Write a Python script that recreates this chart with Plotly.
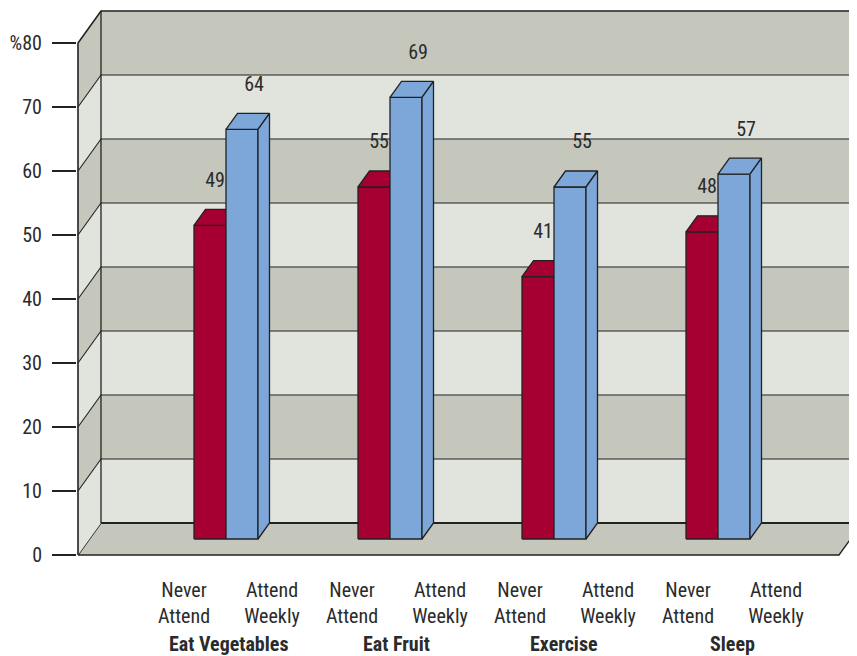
import plotly.graph_objects as go

# data
categories = ["Eat Vegetables", "Eat Fruit", "Exercise", "Sleep"]
series_names = ["Never<br>Attend", "Attend<br>Weekly"]
never_attend = [49, 55, 41, 48]
attend_weekly = [64, 69, 55, 57]
y_ticks = [0, 10, 20, 30, 40, 50, 60, 70, 80]
y_tick_labels = ["0", "10", "20", "30", "40", "50", "60", "70", "%80"]

# look of the fake 3-D box (x in pixels, y in value units)
DX, DY = 23, 5            # depth of the walls
X_LEFT, X_RIGHT = 78, 839  # front edge of the floor
BAR_W = 32
FIRST_BAR = 182.5
GROUP_STEP = 164
LABEL_START, LABEL_STEP, LABEL_GAP = 184, 168, 88

RED, BLUE = "#A60033", "#7DA7D9"
DARK, LIGHT = "#C5C7BC", "#E1E3DD"
EDGE = "#222222"
FONT = "Liberation Sans Narrow, Roboto Condensed, Arial Narrow, sans-serif"
TEXT = "#2b2b2b"


def poly(xs, ys, fill, color=EDGE, width=1.3):
    return go.Scatter(
        x=xs + [xs[0]], y=ys + [ys[0]], mode="lines", fill="toself",
        fillcolor=fill, line=dict(color=color, width=width),
        hoverinfo="skip", showlegend=False,
    )


def line(xs, ys, width=1.3):
    return go.Scatter(x=xs, y=ys, mode="lines", line=dict(color=EDGE, width=width),
                      hoverinfo="skip", showlegend=False)


fig = go.Figure()

# floor
fig.add_trace(poly([X_LEFT, X_RIGHT, X_RIGHT + DX, X_LEFT + DX],
                   [0, 0, DY, DY], DARK))

# walls, banded every 10
for k in range(len(y_ticks) - 1):
    lo, hi = y_ticks[k], y_ticks[k + 1]
    col = LIGHT if k % 2 == 0 else DARK
    fig.add_trace(poly([X_LEFT + DX, X_RIGHT + DX + 30, X_RIGHT + DX + 30, X_LEFT + DX],
                       [lo + DY, lo + DY, hi + DY, hi + DY], col, color=col, width=0))
    fig.add_trace(poly([X_LEFT, X_LEFT + DX, X_LEFT + DX, X_LEFT],
                       [lo, lo + DY, hi + DY, hi], col, color=col, width=0))

# gridlines
for v in y_ticks[1:-1]:
    fig.add_trace(line([X_LEFT, X_LEFT + DX, X_RIGHT + DX + 30], [v, v + DY, v + DY], 1.1))
top = y_ticks[-1]
fig.add_trace(line([X_LEFT, X_LEFT, X_LEFT + DX, X_RIGHT + DX + 30],
                   [0, top, top + DY, top + DY], 1.6))
fig.add_trace(line([X_LEFT + DX, X_LEFT + DX], [DY, top + DY], 1.3))
fig.add_trace(line([X_LEFT + DX, X_RIGHT + DX + 30], [DY, DY], 2))

# bars
label_x, label_y, label_t = [], [], []
for i in range(len(categories)):
    for j, (vals, col) in enumerate([(never_attend, RED), (attend_weekly, BLUE)]):
        v = vals[i]
        fx = FIRST_BAR + GROUP_STEP * i + BAR_W * j + DX / 2
        b, t = DY / 2, v + DY / 2
        fig.add_trace(poly([fx, fx + BAR_W, fx + BAR_W, fx], [b, b, t, t], col))
        fig.add_trace(poly([fx, fx + BAR_W, fx + BAR_W + DX / 2, fx + DX / 2],
                           [t, t, t + DY / 2, t + DY / 2], col))
        fig.add_trace(poly([fx + BAR_W, fx + BAR_W + DX / 2, fx + BAR_W + DX / 2, fx + BAR_W],
                           [b, DY, t + DY / 2, t], col))
        label_x.append(fx + BAR_W / 2 + (5 if j == 0 else 12))
        label_y.append(v + DY + 4.3)
        label_t.append(str(v))

fig.add_trace(go.Scatter(
    x=label_x, y=label_y, text=label_t, mode="text", textposition="middle center",
    textfont=dict(family=FONT, size=20, color=TEXT), hoverinfo="skip", showlegend=False,
))

tick_x, tick_t = [], []
for i in range(len(categories)):
    for j, name in enumerate(series_names):
        tick_x.append(LABEL_START + LABEL_STEP * i + LABEL_GAP * j)
        tick_t.append(name)

for i, cat in enumerate(categories):
    fig.add_annotation(
        x=LABEL_START + LABEL_STEP * i + LABEL_GAP / 2, xref="x",
        y=-0.152, yref="paper", yanchor="middle", showarrow=False,
        text=f"<b>{cat}</b>", font=dict(family=FONT, size=20, color=TEXT),
    )

# the page adds an 8px body margin, so the figure is drawn 8px smaller
fig.update_layout(
    width=849, height=648,
    margin=dict(l=69, r=0, t=0, b=96),
    paper_bgcolor="white", plot_bgcolor="white",
    font=dict(family=FONT, size=20, color=TEXT),
    xaxis=dict(
        range=[77, 857], showgrid=False, zeroline=False, showline=False,
        tickvals=tick_x, ticktext=tick_t, ticks="outside", ticklen=0,
        ticklabelstandoff=12, tickfont=dict(family=FONT, size=20, color=TEXT),
    ),
    yaxis=dict(
        range=[-0.78125, 85.46875], showgrid=False, zeroline=False, showline=False,
        tickvals=y_ticks, ticktext=y_tick_labels, ticks="outside", ticklen=24,
        tickwidth=1.5, tickcolor=EDGE, ticklabelstandoff=6,
        tickfont=dict(family=FONT, size=20, color=TEXT),
    ),
)

fig.write_html("out.html")
